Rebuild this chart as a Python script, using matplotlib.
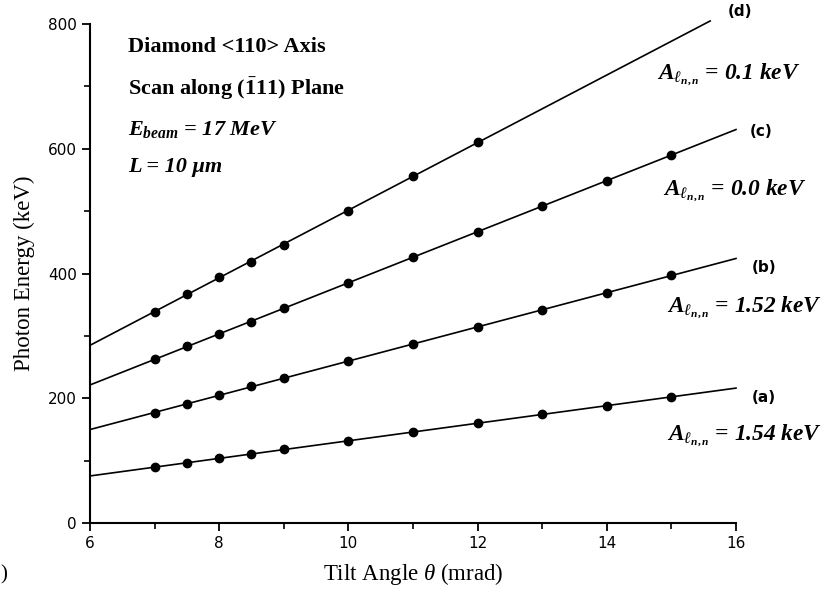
import numpy as np
import matplotlib.pyplot as plt

# tilt angles (mrad) where the photon energy was computed
theta = [7, 7.5, 8, 8.5, 9, 10, 11, 12, 13, 14, 15]
theta_d = [7, 7.5, 8, 8.5, 9, 10, 11, 12]

# photon energies (keV) for each case
energy_a = [89, 96, 104, 111, 118, 132, 146, 160, 174, 188, 202]
energy_b = [177, 191, 205, 219, 232, 259, 287, 314, 342, 369, 397]
energy_c = [263, 283, 303, 323, 344, 385, 426, 467, 508, 549, 590]
energy_d = [339, 367, 395, 419, 446, 500, 556, 611]

curve_tags = ["(a)", "(b)", "(c)", "(d)"]
amplitudes = ["1.54", "1.52", "0.0", "0.1"]
fit_end = [16, 16, 16, 15.6]

plt.rcParams['mathtext.fontset'] = 'custom'
plt.rcParams['mathtext.rm'] = 'Liberation Serif:bold'
plt.rcParams['mathtext.it'] = 'Liberation Serif:italic:bold'
plt.rcParams['mathtext.bf'] = 'Liberation Serif:bold'
plt.rcParams['mathtext.sf'] = 'Liberation Serif:italic'

fig = plt.figure(figsize=(8.31, 5.94), dpi=100)
ax = fig.add_axes([90 / 831, 1 - 523 / 594, (736 - 90) / 831, (523 - 24) / 594])

series = [(theta, energy_a), (theta, energy_b), (theta, energy_c), (theta_d, energy_d)]
for (xs, ys), x_end in zip(series, fit_end):
    k, b = np.polyfit(xs, ys, 1)
    xf = np.array([6, x_end])
    ax.plot(xf, k * xf + b, color='black', lw=1.2, clip_on=False)
    ax.plot(xs, ys, 'o', color='black', ms=6)

ax.set_xlim(6, 16)
ax.set_ylim(0, 800)
ax.set_xticks([6, 8, 10, 12, 14, 16])
ax.set_xticks([7, 9, 11, 13, 15], minor=True)
ax.set_yticks([0, 200, 400, 600, 800])
ax.set_yticks([100, 300, 500, 700], minor=True)
for s in ['top', 'right']:
    ax.spines[s].set_visible(False)
for s in ['left', 'bottom']:
    ax.spines[s].set_linewidth(1.5)
ax.tick_params(which='major', direction='out', length=6, width=1.3)
ax.tick_params(which='minor', direction='out', length=4, width=1.2)
tick_font = {'family': ['Liberation Sans Narrow', 'DejaVu Sans'], 'size': 11}
ax.set_xticklabels(["6", "8", "10", "12", "14", "16"], fontdict=tick_font)
ax.set_yticklabels(["0", "200", "400", "600", "800"], fontdict=tick_font)

serif = 'Liberation Serif'
ax.set_xlabel(r"Tilt Angle $\mathsf{\theta}$ (mrad)", family=serif, fontsize=16.5, labelpad=7)
ax.set_ylabel("Photon Energy (keV)", family=serif, fontsize=16.5, labelpad=9)

# info block, top left
info = dict(family=serif, fontsize=16, fontweight='bold', va='center', ha='left')
fig.text(128 / 831, 1 - 47 / 594, "Diamond <110> Axis", **info)
fig.text(128 / 831, 1 - 89 / 594, r"Scan along $(\bar{1}11)$ Plane", **info)
fig.text(128 / 831, 1 - 129 / 594, r"$E_{beam}$ = 17 MeV", style='italic', **info)
fig.text(128 / 831, 1 - 167 / 594, "L = 10 μm", style='italic', **info)

# curve tags and potential amplitudes on the right
tag_y = [397, 267, 132, 12]
tag_x = [752, 752, 750, 728]
amp_y = [435, 307, 190, 74]
amp_x = [667, 667, 663, 657]
for tag, amp, tx, ty, axx, ay in zip(curve_tags, amplitudes, tag_x, tag_y, amp_x, amp_y):
    fig.text(tx / 831, 1 - ty / 594, tag, family='DejaVu Sans', fontsize=11,
             fontweight='bold', va='center', ha='left')
    fig.text(axx / 831, 1 - ay / 594, r"$A_{\ell_{n,n}}$ = " + amp + " keV",
             family=serif, fontsize=16.8, fontweight='bold', style='italic',
             va='center', ha='left')

# panel mark at the left edge
fig.text(0.0, 1 - 575 / 594, ")", family=serif, fontsize=15, ha='left', va='center')

fig.savefig("out.png", dpi=100)
